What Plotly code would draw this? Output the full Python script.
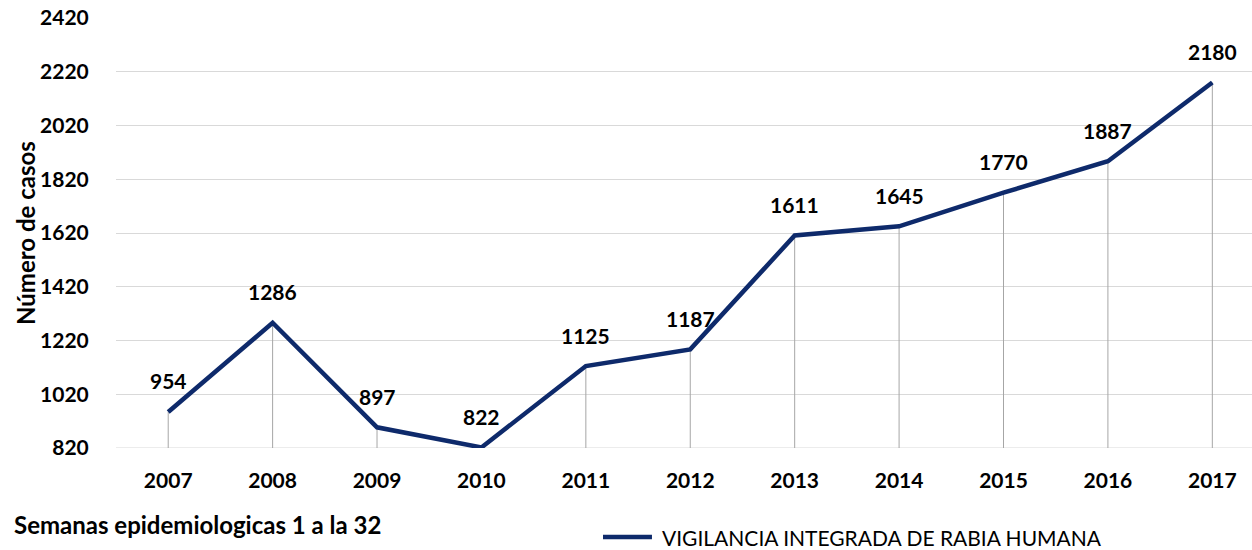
import plotly.graph_objects as go

years = ["2007", "2008", "2009", "2010", "2011", "2012", "2013", "2014", "2015", "2016", "2017"]
cases = [954, 1286, 897, 822, 1125, 1187, 1611, 1645, 1770, 1887, 2180]
y_ticks = [820, 1020, 1220, 1420, 1620, 1820, 2020, 2220, 2420]
series_name = "VIGILANCIA INTEGRADA DE RABIA HUMANA"
base = 820

FONT = "Lato"
LINE_COLOR = "#0E2A6B"

fig = go.Figure()

# drop lines from each point to the axis
fig.add_trace(go.Scatter(
    x=years, y=cases, mode="markers",
    marker=dict(size=1, color="rgba(0,0,0,0)"),
    error_y=dict(type="data", symmetric=False,
                 array=[0] * len(cases),
                 arrayminus=[c - base for c in cases],
                 width=0, thickness=1, color="#a6a6a6"),
    showlegend=False, hoverinfo="skip",
))

fig.add_trace(go.Scatter(
    x=years, y=cases, mode="lines", name=series_name,
    line=dict(color=LINE_COLOR, width=4.5),
    showlegend=False,
))

for i, c in enumerate(cases):
    fig.add_annotation(x=i, y=c, text=f"<b>{c}</b>", showarrow=False,
                       yshift=31, font=dict(family=FONT, size=21, color="#000"))

# y axis title
fig.add_annotation(xref="paper", yref="paper", x=-0.0801, y=0.5, xanchor="center",
                   yanchor="middle", showarrow=False, textangle=-90,
                   text="<b>Número de casos</b>",
                   font=dict(family=FONT, size=24, color="#000"))

fig.add_annotation(xref="paper", yref="paper", x=-0.0915, y=-0.179, xanchor="left",
                   yanchor="middle", showarrow=False,
                   text="<b>Semanas epidemiologicas 1 a la 32</b>",
                   font=dict(family=FONT, size=24, color="#000"))

# legend drawn manually (long line sample as in reference)
fig.add_shape(type="line", xref="paper", yref="paper", x0=0.4287, x1=0.4718,
              y0=-0.207, y1=-0.207, line=dict(color=LINE_COLOR, width=4.5))
fig.add_annotation(xref="paper", yref="paper", x=0.4789, y=-0.207, xanchor="left",
                   yanchor="middle", showarrow=False, text=series_name,
                   font=dict(family=FONT, size=21, color="#000"))

fig.update_layout(
    width=1252, height=550,
    margin=dict(l=116, r=0, t=18, b=102),
    paper_bgcolor="white", plot_bgcolor="white",
    font=dict(family=FONT, color="#000"),
    showlegend=False,
    xaxis=dict(type="category", range=[-0.5, 10.38], showgrid=False, automargin=False,
               showline=False, zeroline=False, ticks="outside", ticklen=14,
               tickcolor="rgba(0,0,0,0)",
               tickfont=dict(family=FONT, size=21, color="#000", weight="bold")),
    yaxis=dict(range=[base, 2420], tickvals=y_ticks, showgrid=True, automargin=False,
               gridcolor="#d9d9d9", gridwidth=1, zeroline=False, showline=False,
               ticks="outside", ticklen=22, tickcolor="rgba(0,0,0,0)",
               tickfont=dict(family=FONT, size=21, color="#000", weight="bold")),
)
fig.add_shape(type="line", xref="paper", yref="y", x0=0, x1=1, y0=base, y1=base,
              line=dict(color="#d9d9d9", width=1), layer="below")

fig.write_html("out.html", config={"displayModeBar": False},
               post_script="document.body.style.margin='0';document.body.style.overflow='hidden';")
